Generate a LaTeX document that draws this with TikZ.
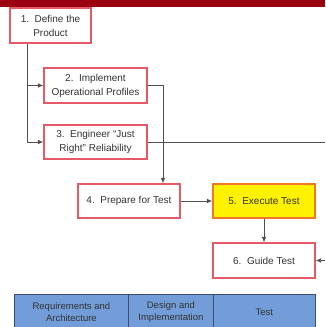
\documentclass[tikz,border=0pt]{standalone}
\usepackage{fontspec}
\setmainfont{Liberation Sans}
\usetikzlibrary{arrows.meta}
\definecolor{barred}{HTML}{990010}
\definecolor{boxred}{HTML}{E45A66}
\definecolor{boxorange}{HTML}{F07828}
\definecolor{tblue}{HTML}{729DD8}
\definecolor{tborder}{HTML}{3C4E6C}
\definecolor{linegray}{HTML}{505050}
\definecolor{txt}{HTML}{333333}
\begin{document}
\begin{tikzpicture}[x=1pt,y=-1pt,
  stepbox/.style={draw=boxred,line width=1.1pt,fill=white,align=center,text=txt,font=\fontsize{10}{14}\selectfont,inner sep=0pt},
  conn/.style={draw=linegray,line width=0.8pt},
  arr/.style={conn,-{Latex[length=5.5pt,width=4.5pt]}},
  cell/.style={draw=tborder,line width=0.8pt,fill=tblue,align=center,font=\fontsize{9.5}{12}\selectfont,text=txt,inner sep=0pt}]
\useasboundingbox (0,0) rectangle (325,327);
\fill[barred] (0,0) rectangle (325,7);
% boxes
\node[stepbox,minimum width=81pt,minimum height=35pt] (b1) at (50.5,25.5) {1.\ \ Define the\\Product};
\node[stepbox,minimum width=103pt,minimum height=35pt] (b2) at (95.5,85.5) {2.\ \ Implement\\Operational Profiles};
\node[stepbox,minimum width=103pt,minimum height=34pt] (b3) at (95.5,142) {3.\ \ Engineer “Just\\Right” Reliability};
\node[stepbox,minimum width=102pt,minimum height=34pt] (b4) at (129,201) {4.\ \ Prepare for Test};
\node[stepbox,draw=boxorange,fill=yellow,minimum width=102pt,minimum height=34pt] (b5) at (264,201) {5.\ \ Execute Test};
\node[stepbox,minimum width=102pt,minimum height=35pt] (b6) at (264,260.5) {6.\ \ Guide Test};
% coordinates
\coordinate (v1) at (27,85.5);
\coordinate (v2) at (27,142);
\coordinate (c2) at (163,85.5);
\coordinate (c4) at (163,184);
\coordinate (r3) at (325,142);
\coordinate (r6) at (325,260.5);
% connectors
\draw[conn] (b1.south -| v1) -- (v2);
\draw[arr] (v1) -- (b2.west);
\draw[arr] (v2) -- (b3.west);
\draw[arr] (b2.east) -- (c2) -- (c4 |- b4.north);
\draw[conn] (b3.east) -- (r3);
\draw[arr] (b4.east) -- (b5.west);
\draw[arr] (b5.south) -- (b6.north);
\draw[arr] (r6) -- (b6.east);
% table
\node[cell,minimum width=114pt,minimum height=36pt,anchor=north west] (t1) at (14,294) {Requirements and\\Architecture};
\node[cell,minimum width=85pt,minimum height=36pt,anchor=north west] (t2) at (128,294) {Design and\\Implementation};
\node[cell,minimum width=102pt,minimum height=36pt,anchor=north west] (t3) at (213,294) {Test};
\end{tikzpicture}
\end{document}
